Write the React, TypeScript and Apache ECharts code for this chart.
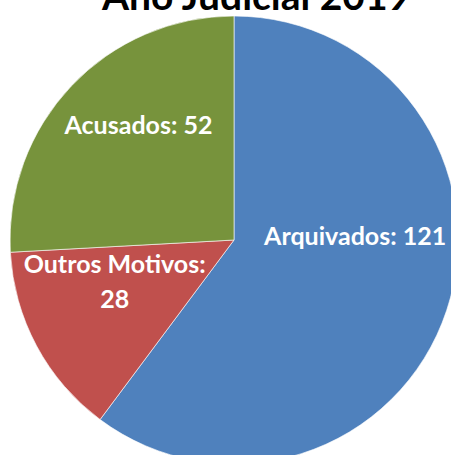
import React, { useEffect, useRef } from "react";
import * as echarts from "echarts";

const categories = ["Arquivados", "Outros Motivos", "Acusados"];
const values = [121, 28, 52];
const colors = ["#4F81BD", "#C0504D", "#77933C"];
const labelOffsets = [[12, -41], [-18, -14], [-12, -37]];
const titleText = "Ano Judicial 2019";

export default function App() {
  const ref = useRef<HTMLDivElement>(null);
  useEffect(() => {
    document.body.style.margin = "0";
    const chart = echarts.init(ref.current!, null, { renderer: "svg" });
    chart.setOption({
      animation: false,
      backgroundColor: "#ffffff",
      title: {
        text: titleText,
        left: 97,
        top: -30,
        textStyle: { fontFamily: "Lato", fontWeight: "bold", fontSize: 39, color: "#000" },
      },
      series: [
        {
          type: "pie",
          center: [234, 240],
          radius: 224,
          startAngle: 90,
          clockwise: true,
          data: categories.map((c, i) => ({
            name: c,
            value: values[i],
            itemStyle: { color: colors[i] },
            label: { offset: labelOffsets[i] },
          })),
          itemStyle: { borderColor: "rgba(255,255,255,0.6)", borderWidth: 1 },
          label: {
            show: true,
            position: "inside",
            formatter: (p: any) =>
              p.name === "Outros Motivos" ? `${p.name}:\n${p.value}` : `${p.name}: ${p.value}`,
            color: "#fff",
            fontFamily: "Lato",
            fontWeight: "bold",
            fontSize: 25,
            lineHeight: 35,
            align: "center",
          },
          labelLine: { show: false },
          emphasis: { disabled: true },
        },
      ],
    });
    return () => chart.dispose();
  }, []);
  return <div ref={ref} style={{ width: 451, height: 455 }} />;
}
